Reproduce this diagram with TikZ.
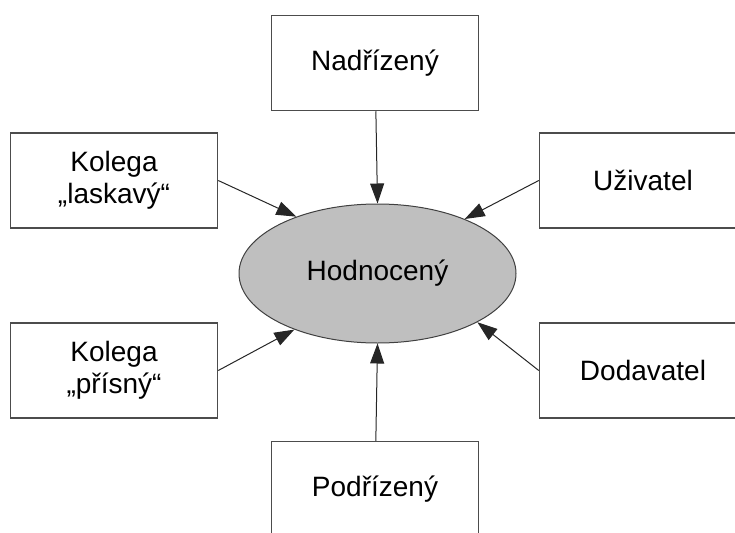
\documentclass[tikz,border=0pt]{standalone}
\usepackage{fontspec}
\setmainfont{Liberation Sans}
\usetikzlibrary{arrows.meta,positioning,shapes}
\tikzset{>={Triangle[length=20pt,width=14pt]}}

\begin{document}
\begin{tikzpicture}[x=1pt,y=-1pt]
    \tikzstyle{rnode} = [draw=black!70, line width=1.5pt, rectangle, minimum width=207pt, minimum height=95pt, align=center, font=\fontsize{28}{32}\selectfont]
    \tikzstyle{hnode} = [draw=black!75, line width=1pt, ellipse, fill=black!25, minimum width=277pt, minimum height=139pt, font=\fontsize{28}{32}\selectfont]
    \tikzstyle{conn} = [->, line width=1pt, black!85]

    \useasboundingbox (0,0) rectangle (735,532);
    \clip (0,0) rectangle (735,532);

    \node[hnode] (hod) at (377.5,273.5) {Hodnocený};
    \node[rnode] (nad) at (375,63) {Nadřízený};
    \node[rnode] (kl) at (114,180.5) {Kolega\\„laskavý“};
    \node[rnode] (uz) at (643,180.5) {Uživatel};
    \node[rnode] (kp) at (114,370.5) {Kolega\\„přísný“};
    \node[rnode] (dod) at (643,370.5) {Dodavatel};
    \node[rnode] (pod) at (375,489) {Podřízený};

    \draw[conn] (nad) -- (hod.north);
    \draw[conn] (kl.east) -- (hod.145);
    \draw[conn] (uz.west) -- (hod.32);
    \draw[conn] (kp.east) -- (hod.214);
    \draw[conn] (dod.west) -- (hod.334);
    \draw[conn] (pod) -- (hod.south);
\end{tikzpicture}
\end{document}
